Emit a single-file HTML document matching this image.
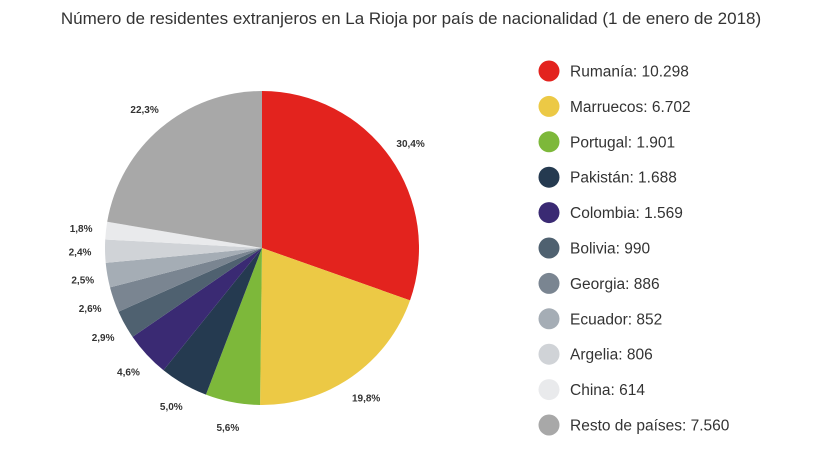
<!DOCTYPE html>
<html><head><meta charset="utf-8"><style>
body{margin:0;background:#fff;font-family:"Liberation Sans",sans-serif;}
svg{display:block}
</style></head><body>
<svg id="chart" width="822" height="449">
<text x="411" y="24" text-anchor="middle" font-size="17" fill="#333">Número de residentes extranjeros en La Rioja por país de nacionalidad (1 de enero de 2018)</text>
<g id="slices"></g><g id="labels"></g><g id="legend"></g>
</svg>
<script>
const categories=["Rumanía","Marruecos","Portugal","Pakistán","Colombia","Bolivia","Georgia","Ecuador","Argelia","China","Resto de países"];
const values=[10298,6702,1901,1688,1569,990,886,852,806,614,7560];
const valueLabels=["10.298","6.702","1.901","1.688","1.569","990","886","852","806","614","7.560"];
const colors=["#e3231e","#ecc945","#7db83a","#253a50","#3a2a73","#4f6170","#7a8591","#a5adb5","#d0d3d7","#e9eaec","#a8a8a8"];
const ns="http://www.w3.org/2000/svg";
const cx=262,cy=248,r=157,lr=182;
const total=values.reduce((a,b)=>a+b,0);
function pt(a,rad){return [cx+Math.sin(a)*rad,cy-Math.cos(a)*rad];}
let acc=0;
const gs=document.getElementById('slices'),gl=document.getElementById('labels'),gg=document.getElementById('legend');
values.forEach((v,i)=>{
 const a0=acc/total*2*Math.PI; acc+=v; const a1=acc/total*2*Math.PI;
 const p0=pt(a0,r),p1=pt(a1,r);
 const path=document.createElementNS(ns,'path');
 path.setAttribute('d',`M${cx},${cy}L${p0[0]},${p0[1]}A${r},${r} 0 ${a1-a0>Math.PI?1:0} 1 ${p1[0]},${p1[1]}Z`);
 path.setAttribute('fill',colors[i]);
 
 
 gs.appendChild(path);
 const m=(a0+a1)/2, lp=pt(m,lr);
 const t=document.createElementNS(ns,'text');
 t.setAttribute('x',lp[0]);t.setAttribute('y',lp[1]+4);
 t.setAttribute('text-anchor','middle');t.setAttribute('font-size','10');t.setAttribute('font-weight','bold');t.setAttribute('fill','#333');
 t.textContent=(v/total*100).toFixed(1).replace('.',',')+'%';
 
 
 gl.appendChild(t);
 const y=71+i*35.4;
 const c=document.createElementNS(ns,'circle');
 c.setAttribute('cx',549);c.setAttribute('cy',y);c.setAttribute('r',10.5);c.setAttribute('fill',colors[i]);
 
 
 gg.appendChild(c);
 const lt=document.createElementNS(ns,'text');
 lt.setAttribute('x',570);lt.setAttribute('y',y+5.5);lt.setAttribute('font-size','15.5');lt.setAttribute('fill','#333');
 lt.textContent=categories[i]+': '+valueLabels[i];
 
 
 gg.appendChild(lt);
});
</script>
</body></html>
